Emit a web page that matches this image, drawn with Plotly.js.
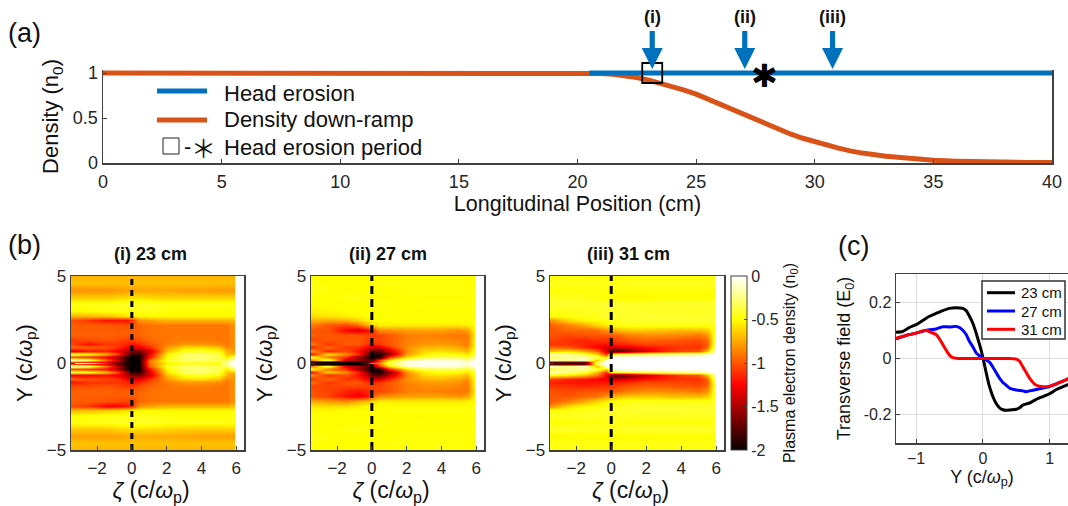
<!DOCTYPE html>
<html><head><meta charset="utf-8">
<script src="https://cdn.plot.ly/plotly-3.0.1.min.js"></script>
<style>html,body{margin:0;padding:0;background:#fff;overflow:hidden}</style></head>
<body><div id="chart" style="width:1068px;height:506px"></div>
<script>
// Panel (a)
var rampX = [0,5,10,15,20,20.5,21,21.5,22,22.5,23,23.5,24,24.5,25,25.5,26,26.5,27,27.5,28,28.5,29,29.5,30,30.5,31,31.5,32,33,34,35,36,37,38,39,40];
var rampY = [1,1,1,1,1,.998,.994,.985,.97,.95,.92,.885,.85,.81,.765,.71,.65,.59,.53,.475,.42,.37,.32,.275,.235,.2,.165,.135,.11,.075,.05,.03,.02,.012,.008,.006,.005];
var erosionX = [20.5,40];
var erosionY = [1,1];
var arrowX = [23.15,27.05,30.75];
var arrowLabels = ['(i)','(ii)','(iii)'];
var periodStartX = [23.15];
var periodEndX = 27.9;
// Panel (b)
var zetaCols = [-3.5,-2.5,-1.5,-.8,-.3,0,.4,1,2,3,4,5,5.5,5.85,6,6.45];
var yRows = [5,4.6,4.2,3.8,3.4,3,2.7,2.45,2.2,1.9,1.6,1.3,1.1,.9,.7,.5,.35,.2,.08,0,-.08,-.2,-.35,-.5,-.7,-.9,-1.1,-1.3,-1.6,-1.9,-2.2,-2.45,-2.7,-3,-3.4,-3.8,-4.2,-4.6,-5];
var panelI = [
[-.72,-.72,-.72,-.72,-.72,-.72,-.72,-.72,-.72,-.72,-.72,-.72,-.72,-.72],
[-.68,-.68,-.68,-.68,-.68,-.68,-.68,-.68,-.68,-.68,-.68,-.68,-.68,-.68],
[-.82,-.82,-.82,-.8,-.78,-.78,-.76,-.76,-.76,-.78,-.78,-.8,-.8,-.8],
[-.66,-.66,-.66,-.64,-.62,-.6,-.6,-.62,-.64,-.64,-.64,-.64,-.64,-.64],
[-.46,-.46,-.46,-.44,-.43,-.43,-.43,-.43,-.46,-.46,-.46,-.46,-.46,-.46],
[-.52,-.5,-.48,-.47,-.46,-.46,-.46,-.46,-.48,-.5,-.5,-.5,-.5,-.5],
[-.72,-.72,-.68,-.64,-.58,-.56,-.53,-.52,-.52,-.52,-.52,-.52,-.52,-.52],
[-1.02,-1.08,-1.2,-1.2,-1.2,-1.1,-.82,-.78,-.72,-.72,-.72,-.72,-.72,-.68],
[-.98,-.98,-.98,-1,-1.02,-1.02,-.95,-.92,-.9,-.9,-.9,-.9,-.9,-.82],
[-.98,-.98,-.98,-.98,-.98,-.98,-.95,-.92,-.9,-.9,-.9,-.9,-.9,-.82],
[-.96,-.96,-.96,-.98,-.98,-.98,-.96,-.92,-.9,-.9,-.9,-.9,-.9,-.82],
[-1.08,-1.03,-1,-1.03,-1.08,-1.08,-1.02,-.95,-.9,-.88,-.88,-.9,-.9,-.82],
[-1.05,-1.2,-1.1,-1.1,-1.15,-1.2,-1.15,-1.02,-.88,-.8,-.8,-.84,-.9,-.82],
[-.95,-.95,-1,-1.1,-1.25,-1.35,-1.3,-1.12,-.8,-.62,-.6,-.68,-.85,-.82],
[-1.3,-1.2,-1.15,-1.3,-1.5,-1.65,-1.65,-1.4,-.68,-.46,-.42,-.5,-.72,-.78],
[-.4,-.5,-.75,-1.05,-1.6,-1.85,-1.9,-1.3,-.55,-.3,-.28,-.38,-.68,-.7],
[-1,-1.1,-1.25,-1.6,-1.9,-2,-2,-1.2,-.5,-.3,-.26,-.34,-.58,-.25],
[-.2,-.3,-.95,-1.4,-1.9,-2,-2,-.95,-.42,-.3,-.3,-.36,-.3,-.05],
[-1,-1.15,-1.25,-1.65,-1.95,-2,-2,-.92,-.5,-.42,-.42,-.45,-.2,0],
[-.3,-.4,-1.1,-1.75,-2,-2,-1.95,-.92,-.55,-.5,-.5,-.5,-.05,0],
[-1,-1.1,-1.3,-1.7,-1.95,-2,-2,-.95,-.52,-.42,-.42,-.45,-.2,0],
[-.22,-.3,-.9,-1.45,-1.9,-2,-2,-.98,-.44,-.3,-.3,-.36,-.3,-.05],
[-1.05,-1.1,-1.2,-1.55,-1.9,-2,-2,-1.25,-.52,-.3,-.26,-.34,-.58,-.25],
[-.4,-.45,-.7,-1.05,-1.55,-1.85,-1.9,-1.35,-.58,-.32,-.28,-.38,-.68,-.7],
[-1.25,-1.25,-1.2,-1.3,-1.5,-1.65,-1.65,-1.4,-.7,-.47,-.42,-.5,-.74,-.78],
[-.95,-1,-1.05,-1.1,-1.25,-1.35,-1.3,-1.12,-.8,-.62,-.6,-.68,-.85,-.82],
[-1.2,-1.1,-1.1,-1.1,-1.15,-1.2,-1.15,-1.02,-.88,-.8,-.8,-.84,-.9,-.82],
[-1.03,-1.03,-1,-1.03,-1.08,-1.08,-1.02,-.95,-.9,-.88,-.88,-.9,-.9,-.82],
[-.98,-.96,-.96,-.98,-.98,-.98,-.96,-.92,-.9,-.9,-.9,-.9,-.9,-.82],
[-.98,-.98,-.98,-.98,-.98,-.98,-.95,-.92,-.9,-.9,-.9,-.9,-.9,-.82],
[-.98,-.98,-1,-1.03,-1.05,-1.08,-.95,-.92,-.9,-.9,-.9,-.9,-.9,-.82],
[-1.02,-1.08,-1.25,-1.25,-1.18,-1.1,-.82,-.78,-.72,-.72,-.72,-.72,-.72,-.68],
[-.72,-.7,-.68,-.64,-.58,-.56,-.53,-.52,-.52,-.52,-.52,-.52,-.52,-.52],
[-.52,-.5,-.48,-.47,-.46,-.46,-.46,-.46,-.48,-.5,-.5,-.5,-.5,-.5],
[-.47,-.46,-.46,-.44,-.43,-.43,-.43,-.43,-.46,-.46,-.46,-.46,-.46,-.46],
[-.66,-.66,-.66,-.62,-.6,-.6,-.6,-.6,-.62,-.64,-.64,-.64,-.64,-.64],
[-.78,-.78,-.78,-.78,-.76,-.76,-.75,-.75,-.75,-.76,-.78,-.78,-.78,-.78],
[-.66,-.68,-.68,-.68,-.68,-.68,-.68,-.68,-.68,-.68,-.68,-.68,-.68,-.68],
[-.72,-.72,-.72,-.72,-.72,-.72,-.72,-.72,-.72,-.72,-.72,-.72,-.72,-.72]];
var panelII = [
[-.5,-.5,-.5,-.5,-.5,-.5,-.5,-.5,-.5,-.5,-.5,-.5,-.5,-.5],
[-.48,-.5,-.5,-.5,-.5,-.48,-.48,-.48,-.48,-.48,-.48,-.48,-.5,-.5],
[-.46,-.48,-.5,-.5,-.5,-.5,-.5,-.5,-.48,-.48,-.48,-.48,-.48,-.48],
[-.5,-.5,-.48,-.46,-.48,-.5,-.5,-.5,-.5,-.5,-.5,-.5,-.5,-.5],
[-.5,-.5,-.5,-.5,-.5,-.48,-.48,-.48,-.5,-.48,-.48,-.48,-.48,-.48],
[-.55,-.52,-.5,-.5,-.5,-.5,-.5,-.5,-.5,-.5,-.5,-.5,-.5,-.5],
[-.6,-.58,-.55,-.52,-.5,-.5,-.5,-.48,-.48,-.48,-.48,-.48,-.48,-.48],
[-.72,-.75,-.72,-.62,-.55,-.52,-.5,-.5,-.5,-.5,-.5,-.5,-.5,-.5],
[-.9,-1,-1.05,-.95,-.75,-.62,-.55,-.55,-.56,-.56,-.56,-.56,-.54,-.5],
[-1,-1,-1.25,-1.35,-1.25,-1.1,-.85,-.82,-.78,-.78,-.78,-.82,-.78,-.55],
[-.98,-1,-1,-1,-1.05,-1.1,-1.05,-1,-.88,-.86,-.88,-.9,-.9,-.58],
[-1.05,-1,-1,-1,-1.05,-1.05,-1.05,-1,-.88,-.84,-.84,-.86,-.9,-.56],
[-.88,-1.1,-.98,-1,-1.1,-1.15,-1.1,-1,-.86,-.8,-.78,-.82,-.88,-.55],
[-1.15,-.92,-1.1,-1.1,-1.25,-1.4,-1.35,-1.12,-.82,-.72,-.7,-.76,-.82,-.52],
[-.8,-1.15,-1.02,-1.2,-1.45,-1.7,-1.75,-1.4,-.85,-.62,-.58,-.64,-.7,-.48],
[-1.2,-.6,-.85,-1.1,-1.6,-1.9,-1.95,-1.55,-.78,-.55,-.46,-.5,-.58,-.42],
[-.4,-.9,-1.1,-1.6,-1.8,-1.95,-2,-1.1,-.6,-.38,-.33,-.35,-.42,-.25],
[-.9,-.3,-1.4,-1.5,-1.7,-1.75,-1.1,-.6,-.15,-.08,-.08,-.1,-.2,-.05],
[-1.9,-1.95,-2,-2,-1.85,-1.4,-1,-.4,-.06,-.03,-.03,-.05,-.08,0],
[-1.85,-1.95,-2,-2,-1.6,-.8,-.8,-.35,-.05,-.02,-.02,-.04,-.05,0],
[-1.9,-1.95,-2,-2,-1.85,-1.4,-1,-.4,-.06,-.03,-.03,-.05,-.08,0],
[-.9,-.35,-1.35,-1.5,-1.7,-1.75,-1.1,-.6,-.15,-.08,-.08,-.1,-.2,-.05],
[-.45,-.9,-1.1,-1.55,-1.8,-1.95,-2,-1.15,-.6,-.38,-.33,-.35,-.42,-.25],
[-1.2,-.65,-.85,-1.15,-1.6,-1.9,-1.95,-1.6,-.8,-.55,-.46,-.5,-.58,-.42],
[-.85,-1.12,-1.02,-1.2,-1.45,-1.7,-1.75,-1.45,-.88,-.62,-.58,-.64,-.7,-.48],
[-1.1,-.92,-1.1,-1.1,-1.25,-1.4,-1.35,-1.15,-.82,-.72,-.7,-.76,-.82,-.52],
[-.92,-1.1,-1,-1,-1.1,-1.15,-1.1,-1,-.86,-.8,-.78,-.82,-.88,-.55],
[-1.05,-1.05,-1.05,-1.05,-1.05,-1.05,-1.05,-1,-.88,-.84,-.84,-.86,-.9,-.56],
[-1,-1.05,-1.15,-1.2,-1.15,-1.1,-1.05,-1,-.88,-.86,-.88,-.9,-.9,-.58],
[-1,-1.05,-1.2,-1.3,-1.2,-1,-.85,-.82,-.78,-.78,-.78,-.82,-.78,-.55],
[-.75,-.8,-.85,-.75,-.68,-.62,-.55,-.55,-.56,-.56,-.56,-.56,-.54,-.5],
[-.58,-.6,-.6,-.55,-.52,-.52,-.5,-.5,-.5,-.5,-.5,-.5,-.5,-.5],
[-.52,-.52,-.5,-.5,-.5,-.5,-.5,-.48,-.48,-.48,-.48,-.48,-.48,-.48],
[-.5,-.5,-.5,-.5,-.5,-.5,-.5,-.5,-.5,-.5,-.5,-.5,-.5,-.5],
[-.48,-.5,-.5,-.5,-.5,-.48,-.48,-.48,-.5,-.48,-.48,-.48,-.48,-.48],
[-.5,-.5,-.48,-.46,-.48,-.5,-.5,-.5,-.5,-.5,-.5,-.5,-.5,-.5],
[-.46,-.48,-.5,-.5,-.5,-.5,-.5,-.5,-.48,-.48,-.48,-.48,-.48,-.48],
[-.48,-.5,-.5,-.5,-.5,-.48,-.48,-.48,-.48,-.48,-.48,-.48,-.5,-.5],
[-.5,-.5,-.5,-.5,-.5,-.5,-.5,-.5,-.5,-.5,-.5,-.5,-.5,-.5]];
var panelIII = [
[-.48,-.48,-.48,-.48,-.48,-.48,-.48,-.48,-.48,-.48,-.48,-.48,-.48,-.48],
[-.45,-.45,-.46,-.46,-.46,-.46,-.46,-.45,-.45,-.45,-.45,-.45,-.45,-.45],
[-.5,-.5,-.48,-.48,-.48,-.48,-.48,-.48,-.48,-.48,-.48,-.48,-.48,-.48],
[-.44,-.44,-.46,-.48,-.5,-.52,-.52,-.52,-.52,-.5,-.5,-.5,-.5,-.5],
[-.42,-.42,-.42,-.42,-.4,-.4,-.4,-.42,-.42,-.42,-.42,-.42,-.42,-.42],
[-.46,-.46,-.44,-.44,-.42,-.42,-.42,-.42,-.42,-.44,-.44,-.44,-.44,-.44],
[-.5,-.48,-.46,-.44,-.42,-.42,-.42,-.42,-.4,-.4,-.4,-.42,-.42,-.42],
[-.82,-.62,-.52,-.5,-.46,-.44,-.44,-.42,-.42,-.42,-.42,-.42,-.42,-.42],
[-.98,-.88,-.75,-.62,-.55,-.5,-.48,-.46,-.46,-.46,-.46,-.46,-.46,-.45],
[-1,-.95,-.95,-.92,-.82,-.75,-.7,-.66,-.66,-.68,-.7,-.7,-.66,-.45],
[-1,-1.05,-1,-1,-1,-1,-.95,-.88,-.84,-.84,-.86,-.9,-.82,-.46],
[-1.05,-1.1,-1.15,-1.1,-1.1,-1.1,-1.05,-1,-.96,-.98,-1,-1.02,-.95,-.46],
[-1.1,-1.1,-1.15,-1.2,-1.2,-1.2,-1.15,-1.12,-1.05,-1.05,-1.05,-1.08,-1,-.42],
[-.95,-1,-1.15,-1.25,-1.35,-1.4,-1.35,-1.3,-1.2,-1.15,-1.1,-1.1,-.95,-.36],
[-.7,-.6,-.75,-.95,-1.35,-1.8,-1.85,-1.65,-1.35,-1.15,-1.05,-1,-.7,-.2],
[-.15,-.2,-.4,-.65,-1.1,-.5,-.4,-.35,-.32,-.3,-.25,-.2,-.1,-.02],
[-.35,-.2,-.15,-.3,-.6,-.02,0,0,0,0,0,0,0,0],
[-.1,-.25,-.1,-.7,-.1,0,0,0,0,0,0,0,0,0],
[-1.75,-1.7,-1.7,-.35,0,0,0,0,0,0,0,0,0,0],
[-2,-2,-1.95,-.1,0,0,0,0,0,0,0,0,0,0],
[-1.75,-1.7,-1.7,-.35,0,0,0,0,0,0,0,0,0,0],
[-.12,-.28,-.12,-.7,-.1,0,0,0,0,0,0,0,0,0],
[-.4,-.2,-.2,-.35,-.65,-.05,0,0,0,0,0,0,0,0],
[-.15,-.25,-.4,-.7,-1.1,-.55,-.42,-.38,-.34,-.3,-.25,-.22,-.1,-.02],
[-.5,-.55,-.7,-.9,-1.25,-1.75,-1.85,-1.7,-1.4,-1.2,-1.08,-1,-.72,-.2],
[-1.05,-1.15,-1.2,-1.25,-1.3,-1.4,-1.35,-1.3,-1.2,-1.15,-1.1,-1.1,-.95,-.36],
[-1.15,-1.2,-1.2,-1.2,-1.2,-1.2,-1.15,-1.12,-1.05,-1.05,-1.05,-1.08,-1,-.42],
[-1.1,-1.1,-1.15,-1.1,-1.1,-1.1,-1.05,-1,-.96,-.98,-1,-1.02,-.95,-.46],
[-1,-1.05,-1,-1,-1,-1,-.95,-.88,-.84,-.84,-.86,-.9,-.82,-.46],
[-1,-1,-.95,-.92,-.82,-.75,-.7,-.66,-.66,-.68,-.7,-.7,-.66,-.45],
[-1,-.9,-.75,-.62,-.55,-.5,-.48,-.46,-.46,-.46,-.46,-.46,-.46,-.45],
[-.85,-.62,-.52,-.5,-.46,-.44,-.44,-.42,-.42,-.42,-.42,-.42,-.42,-.42],
[-.5,-.48,-.46,-.44,-.42,-.42,-.42,-.42,-.4,-.4,-.4,-.42,-.42,-.42],
[-.44,-.44,-.42,-.44,-.44,-.44,-.44,-.44,-.44,-.44,-.44,-.44,-.44,-.44],
[-.5,-.5,-.48,-.48,-.46,-.46,-.46,-.48,-.48,-.48,-.48,-.48,-.48,-.48],
[-.42,-.42,-.44,-.44,-.44,-.44,-.44,-.42,-.42,-.42,-.42,-.42,-.42,-.42],
[-.52,-.52,-.5,-.5,-.5,-.5,-.5,-.5,-.5,-.5,-.5,-.5,-.5,-.5],
[-.46,-.46,-.46,-.46,-.46,-.46,-.46,-.46,-.46,-.46,-.46,-.46,-.46,-.46],
[-.48,-.48,-.48,-.48,-.48,-.48,-.48,-.48,-.48,-.48,-.48,-.48,-.48,-.48]];
var panelTitles = ['(i) 23 cm','(ii) 27 cm','(iii) 31 cm'];
var cutZeta = [0,0];
var cutY = [-5,5];
// Panel (c)
var seriesNames = ['23 cm','27 cm','31 cm'];
var fieldX23 = [-1.3,-1.2,-1.1,-1,-.9,-.8,-.7,-.6,-.5,-.4,-.3,-.25,-.2,-.15,-.1,-.05,0,.05,.1,.15,.2,.25,.3,.35,.4,.5,.55,.6,.7,.8,.9,1,1.1,1.2,1.3];
var fieldY23 = [.093,.096,.11,.12,.135,.15,.16,.17,.178,.18,.178,.17,.15,.125,.09,.05,.005,-.05,-.1,-.135,-.16,-.175,-.182,-.184,-.183,-.18,-.175,-.165,-.158,-.145,-.135,-.125,-.11,-.1,-.09];
var fieldX27 = [-1.3,-1.2,-1.1,-1,-.9,-.8,-.7,-.6,-.5,-.4,-.35,-.3,-.25,-.2,-.15,-.1,-.05,0,.05,.1,.15,.2,.25,.3,.35,.4,.5,.6,.65,.7,.8,.9,1,1.1,1.2,1.3];
var fieldY27 = [.07,.078,.085,.09,.097,.102,.105,.113,.112,.114,.11,.1,.085,.06,.042,.02,.01,.002,-.005,-.013,-.03,-.05,-.07,-.085,-.095,-.105,-.112,-.115,-.118,-.115,-.11,-.105,-.1,-.09,-.08,-.07];
var fieldX31 = [-1.3,-1.2,-1.1,-1,-.9,-.85,-.8,-.7,-.65,-.6,-.55,-.5,-.45,-.4,-.3,0,.4,.5,.55,.6,.65,.7,.75,.8,.9,1,1.1,1.2,1.3];
var fieldY31 = [.072,.078,.085,.09,.098,.1,.095,.085,.07,.05,.03,.012,.003,.001,0,0,0,-.002,-.01,-.03,-.05,-.07,-.085,-.095,-.1,-.098,-.09,-.08,-.07];

var W=1068,H=506, FONT='"Liberation Sans", Arial, sans-serif';
var TICK='#262626', AXIS='#404040';
function fx(a,b){return [a/W,b/W];}
function fy(top,bottom){return [1-bottom/H,1-top/H];}
function widen(rows){return rows.map(function(r){return r.concat([0,0]);}).reverse();}
var yAsc = yRows.slice().reverse();
function base(extra){
  var o={showline:true,mirror:true,linecolor:AXIS,linewidth:1.5,ticks:'inside',ticklen:4,tickwidth:1,tickcolor:AXIS,
    showgrid:false,zeroline:false,tickfont:{family:FONT,size:17,color:TICK},automargin:false};
  for(var k in extra)o[k]=extra[k];return o;
}
function ttl(t,size,st){return {text:t,font:{family:FONT,size:size,color:'#111'},standoff:st};}
var pad='&nbsp;&nbsp;';
var zetaT='<i>ζ</i> (c/<i>ω</i><sub>p</sub>)'+pad, yT='Y (c/<i>ω</i><sub>p</sub>)';

var traces=[];
traces.push({type:'scatter',mode:'lines',x:rampX,y:rampY,xaxis:'x',yaxis:'y',line:{color:'#D95319',width:5},cliponaxis:false,showlegend:false,name:'Density down-ramp'});
traces.push({type:'scatter',mode:'lines',x:erosionX,y:erosionY,xaxis:'x',yaxis:'y',line:{color:'#0072BD',width:5},cliponaxis:false,showlegend:false,name:'Head erosion'});
traces.push({type:'scatter',mode:'markers',x:periodStartX,y:[1],xaxis:'x',yaxis:'y',marker:{symbol:'square-open',size:20,color:'#000',line:{width:1.8,color:'#000'}},cliponaxis:false,showlegend:false});
var panels=[panelI,panelII,panelIII];
panels.forEach(function(p,i){
  var n=i+2;
  traces.push({type:'heatmap',x:zetaCols,y:yAsc,z:widen(p),zsmooth:'best',coloraxis:'coloraxis',xaxis:'x'+n,yaxis:'y'+n,hoverinfo:'skip'});
  traces.push({type:'scatter',mode:'lines',x:cutZeta,y:cutY,xaxis:'x'+n,yaxis:'y'+n,line:{color:'#000',width:3,dash:i===0?'6px,5px':'8px,5px'},showlegend:false});
});
[[fieldX23,fieldY23,'#000'],[fieldX27,fieldY27,'#0000ff'],[fieldX31,fieldY31,'#ff0000']].forEach(function(s,i){
  traces.push({type:'scatter',mode:'lines',x:s[0],y:s[1],xaxis:'x5',yaxis:'y5',name:seriesNames[i],line:{color:s[2],width:3,shape:'spline',smoothing:.5},showlegend:false});
});

var anns=[];
function note(t,px,py,size,opts){
  var a={xref:'paper',yref:'paper',x:px/W,y:1-py/H,text:t,showarrow:false,xanchor:'center',yanchor:'middle',
    font:{family:FONT,size:size,color:'#111'}};
  for(var k in opts)a[k]=opts[k];anns.push(a);
}
note('(a)',24,33,27);note('(b)',24,245,27);note('(c)',853,246,27);
panelTitles.forEach(function(t,i){note('<b>'+t+'</b>',[150,388,628][i],254,18);});
note('Head erosion',222,93,22,{xanchor:'left'});
note('Density down-ramp',222,120,22,{xanchor:'left'});
note('Head erosion period',222,147,22,{xanchor:'left'});
note('-',187,146,22);
note('＊',203,147,25,{font:{family:'"Noto Sans CJK SC"',size:25,color:'#111'}});
anns.push({xref:'x',yref:'y',x:periodEndX,y:.97,text:'✱',showarrow:false,font:{family:'"DejaVu Sans"',size:32,color:'#000'}});
arrowX.forEach(function(v,i){
  anns.push({xref:'x',yref:'paper',x:v,y:1-17/H,yanchor:'middle',xanchor:'center',text:'<b>'+arrowLabels[i]+'</b>',showarrow:false,font:{family:FONT,size:18,color:'#111'}});
});
var shapes=[];
arrowX.forEach(function(v){
  shapes.push({type:'path',xref:'x',yref:'paper',xsizemode:'pixel',ysizemode:'pixel',xanchor:v,yanchor:1-69/H,
    path:'M-2.6,38 L2.6,38 L2.6,21 L10.5,21 L0,0 L-10.5,21 L-2.6,21 Z',fillcolor:'#0072BD',line:{width:0}});
});
shapes.push({type:'line',xref:'paper',yref:'paper',x0:157/W,x1:207/W,y0:1-91/H,y1:1-91/H,line:{color:'#0072BD',width:5}});
shapes.push({type:'line',xref:'paper',yref:'paper',x0:157/W,x1:207/W,y0:1-120/H,y1:1-120/H,line:{color:'#D95319',width:5}});
shapes.push({type:'rect',xref:'paper',yref:'paper',x0:163/W,x1:179/W,y0:1-154/H,y1:1-138/H,line:{color:'#222',width:1}});
// Legend of panel (c)
var legendY=[292.7,311,329.3], legendColors=['#000','#0000ff','#ff0000'];
shapes.push({type:'rect',xref:'paper',yref:'paper',x0:982/W,x1:1065/W,y0:1-339/H,y1:1-281/H,fillcolor:'#fff',line:{color:'#333',width:1.5}});
seriesNames.forEach(function(n,i){
  shapes.push({type:'line',xref:'paper',yref:'paper',x0:987/W,x1:1015/W,y0:1-legendY[i]/H,y1:1-legendY[i]/H,line:{color:legendColors[i],width:3}});
  note(n,1019,legendY[i],15,{xanchor:'left'});
});

var bY={range:[-5,5],tickvals:[-5,0,5],domain:fy(276,450)};
var bX={range:[-3.5,6.45],tickvals:[-2,0,2,4,6],ticklabelstandoff:2};
var layout={
  width:W,height:H,margin:{l:0,r:0,t:0,b:0,autoexpand:false},paper_bgcolor:'#fff',plot_bgcolor:'#fff',
  font:{family:FONT},showlegend:false,
  xaxis:base({domain:fx(103,1052),range:[0,40],tickvals:[0,5,10,15,20,25,30,35,40],anchor:'y',mirror:false,ticklabelstandoff:2,tickfont:{family:FONT,size:18,color:TICK},title:ttl('Longitudinal Position (cm)',21.5,5)}),
  yaxis:base({domain:fy(70,163),range:[0,93/90],tickvals:[0,.5,1],ticktext:['0','0.5','1'],anchor:'x',tickfont:{family:FONT,size:18,color:TICK},title:ttl('Density (n<sub>0</sub>)',22,8)}),
  xaxis2:base(Object.assign({},bX,{domain:fx(71,244),anchor:'y2',title:ttl(zetaT,23,6)})),
  yaxis2:base(Object.assign({},bY,{anchor:'x2',title:ttl(yT,22,8)})),
  xaxis3:base(Object.assign({},bX,{domain:fx(311,484),anchor:'y3',title:ttl(zetaT,23,6)})),
  yaxis3:base(Object.assign({},bY,{anchor:'x3',title:ttl(yT,22,8)})),
  xaxis4:base(Object.assign({},bX,{domain:fx(550,724),anchor:'y4',title:ttl(zetaT,23,6)})),
  yaxis4:base(Object.assign({},bY,{anchor:'x4',title:ttl(yT,22,8)})),
  xaxis5:base({domain:fx(896,1068),range:[-1.3,1.275],tickvals:[-1,0,1],anchor:'y5',showgrid:true,gridcolor:'#dcdcdc',gridwidth:1,tickfont:{family:FONT,size:16,color:TICK},title:ttl(yT,18,3)}),
  yaxis5:base({domain:fy(274,443),range:[-.3,.3],tickvals:[-.2,0,.2],ticktext:['-0.2','0','0.2'],anchor:'x5',showgrid:true,gridcolor:'#dcdcdc',gridwidth:1,tickfont:{family:FONT,size:16,color:TICK},title:ttl('Transverse field (E<sub>0</sub>)',18,8)}),
  coloraxis:{cmin:-2,cmax:0,colorscale:[[0,'#080000'],[.375,'#ff0000'],[.75,'#ffff00'],[1,'#ffffff']],
    colorbar:{x:731/W,xanchor:'left',xpad:0,y:1-363/H,yanchor:'middle',ypad:0,lenmode:'pixels',len:174,thicknessmode:'pixels',thickness:16,
      tickvals:[-2,-1.5,-1,-.5,0],ticktext:['-2','-1.5','-1','-0.5','0'],ticks:'inside',ticklen:3,tickcolor:AXIS,outlinecolor:AXIS,outlinewidth:1,
      tickfont:{family:FONT,size:16,color:TICK},
      title:{text:'Plasma electron density (n<sub>0</sub>)',side:'right',font:{family:FONT,size:16,color:'#111'}}}},
  annotations:anns,shapes:shapes
};
Plotly.newPlot('chart',traces,layout,{displayModeBar:false,responsive:false,staticPlot:true});
</script></body></html>
